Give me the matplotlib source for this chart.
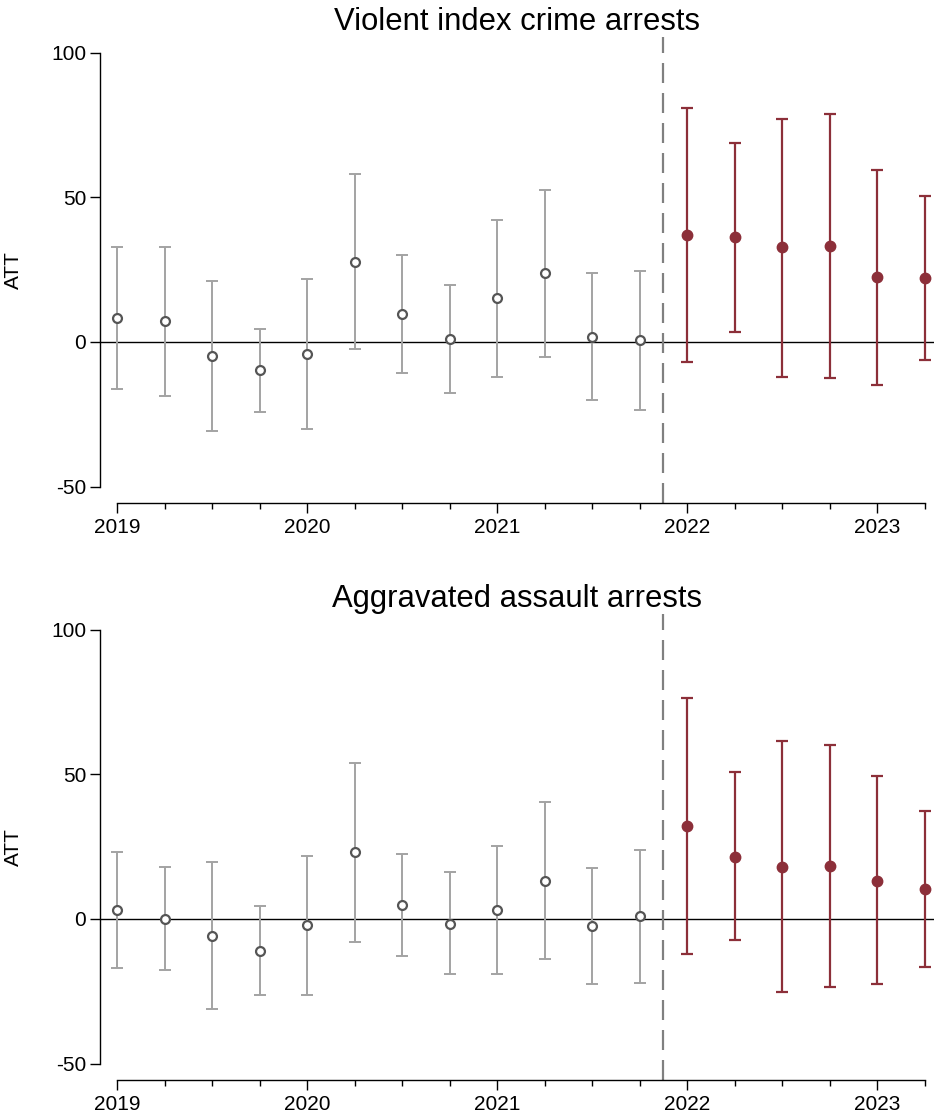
import matplotlib.pyplot as plt
import numpy as np
from matplotlib.ticker import FixedLocator

plt.rcParams["font.family"] = ["Liberation Sans", "DejaVu Sans"]
plt.rcParams["axes.unicode_minus"] = False

# quarterly event time, 2019Q1 .. 2023Q2
quarters = np.arange(2019.0, 2023.26, 0.25)
treat_start = 2021.875
n_pre = 12

titles = ["Violent index crime arrests", "Aggravated assault arrests"]

violent_att = [8.2, 7.1, -4.8, -9.8, -4.1, 27.7, 9.6, 1.2, 15.3, 23.9, 1.8, 0.6,
               37.1, 36.2, 32.7, 33.2, 22.4, 22.1]
violent_hi = [32.8, 33.0, 21.2, 4.6, 21.9, 58.1, 30.0, 19.8, 42.3, 52.7, 23.7, 24.5,
              81.1, 68.9, 77.3, 78.7, 59.6, 50.5]
violent_lo = [-16.4, -18.7, -30.8, -24.3, -30.2, -2.6, -10.7, -17.5, -12.0, -5.1, -19.9, -23.4,
              -6.8, 3.5, -12.0, -12.3, -14.9, -6.1]

assault_att = [3.0, 0.1, -5.9, -11.0, -2.2, 23.0, 4.8, -1.6, 3.1, 13.3, -2.3, 1.0,
               32.3, 21.5, 18.1, 18.3, 13.3, 10.5]
assault_hi = [23.2, 18.0, 19.7, 4.4, 21.9, 54.0, 22.4, 16.1, 25.2, 40.5, 17.7, 24.0,
              76.5, 50.7, 61.6, 60.3, 49.4, 37.5]
assault_lo = [-17.1, -17.7, -31.3, -26.3, -26.3, -8.0, -12.8, -19.1, -18.9, -13.8, -22.4, -22.1,
              -12.0, -7.4, -25.3, -23.6, -22.6, -16.6]

series = [
    (violent_att, violent_lo, violent_hi),
    (assault_att, assault_lo, assault_hi),
]

PRE_BAR = "#a3a3a3"
PRE_EDGE = "#555555"
POST = "#8c2f39"

fig = plt.figure(figsize=(9.34, 11.18), dpi=100)
ax_boxes = [
    [0.1071, 0.5501, 0.8929, 0.4168],
    [0.1071, 0.0340, 0.8929, 0.4168],
]

for box, title, (att, lo, hi) in zip(ax_boxes, titles, series):
    ax = fig.add_axes(box)
    att = np.asarray(att)
    lo = np.asarray(lo)
    hi = np.asarray(hi)
    err = np.vstack([att - lo, hi - att])

    pre = slice(0, n_pre)
    post = slice(n_pre, None)

    ax.axhline(0, color="black", lw=1.0, zorder=1)
    ax.axvline(treat_start, color="#808080", lw=1.6, dashes=(9, 4.5), zorder=1)

    ax.errorbar(quarters[pre], att[pre], yerr=err[:, pre], fmt="none",
                ecolor=PRE_BAR, elinewidth=1.4, capsize=4.5, capthick=1.4, zorder=2)
    ax.plot(quarters[pre], att[pre], "o", ms=6.4, mfc="white", mec=PRE_EDGE,
            mew=1.6, zorder=3)

    ax.errorbar(quarters[post], att[post], yerr=err[:, post], fmt="o", color=POST,
                ms=7.5, elinewidth=1.6, capsize=4.5, capthick=1.6, zorder=3)

    ax.set_xlim(2018.91, 2023.30)
    ax.set_ylim(-55.7, 105.5)

    ax.set_yticks([-50, 0, 50, 100])
    ax.set_xticks([2019, 2020, 2021, 2022, 2023])
    ax.xaxis.set_minor_locator(FixedLocator(quarters))
    ax.tick_params(axis="both", which="major", direction="out", length=7,
                   width=1.0, labelsize=15, colors="black")
    ax.tick_params(axis="x", which="minor", direction="out", length=4, width=1.0)
    ax.tick_params(axis="y", pad=3)

    for side in ("top", "right"):
        ax.spines[side].set_visible(False)
    ax.spines["left"].set_bounds(-50, 100)
    ax.spines["bottom"].set_bounds(2019, 2023.25)
    ax.spines["left"].set_linewidth(1.0)
    ax.spines["bottom"].set_linewidth(1.0)

    ax.set_ylabel("ATT", fontsize=15, labelpad=20)
    ax.set_title(title, fontsize=22.3, pad=4)

fig.savefig("out.png", dpi=100)
